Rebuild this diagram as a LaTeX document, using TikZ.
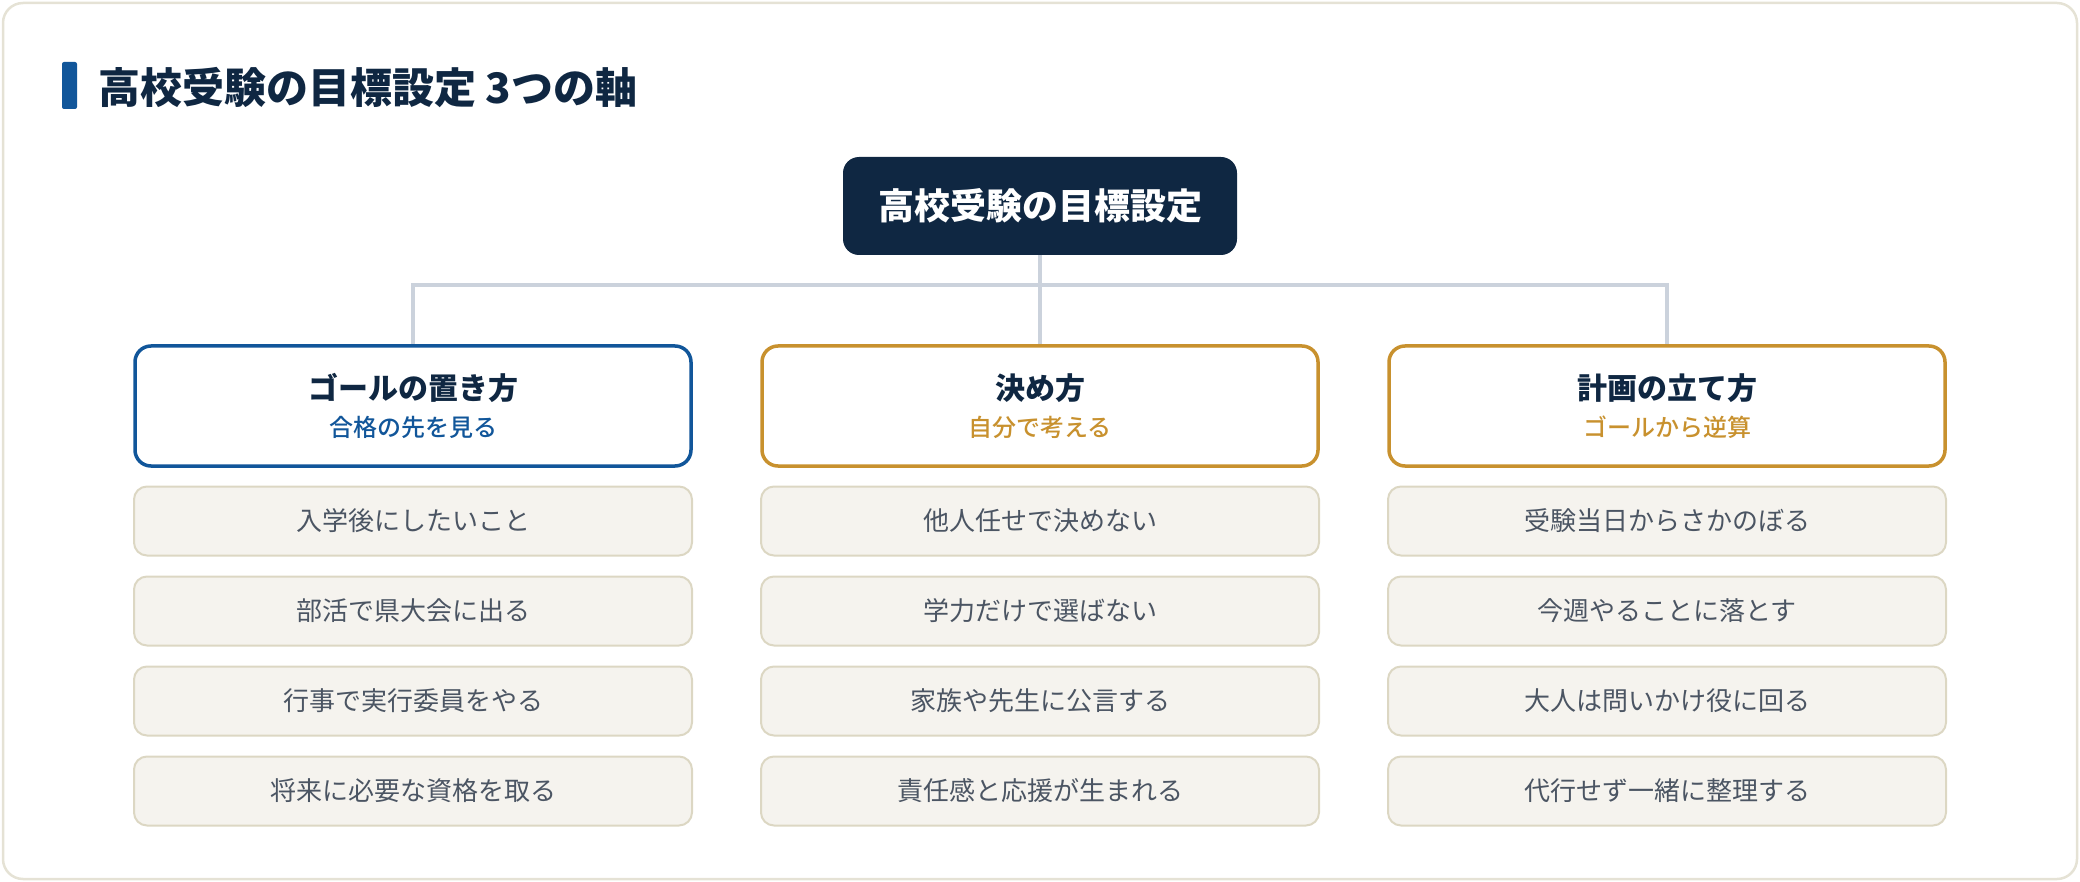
\documentclass[tikz,border=0pt]{standalone}
\usepackage{fontspec}
\setmainfont{Noto Sans CJK JP}
\newfontfamily\medfont{Noto Sans CJK JP Medium}
\definecolor{navy}{HTML}{0F2742}
\definecolor{axisblue}{HTML}{11569A}
\definecolor{axisgold}{HTML}{C8912E}
\definecolor{linkgray}{HTML}{CBD2DC}
\definecolor{itemfill}{HTML}{F5F3EE}
\definecolor{itemline}{HTML}{DCD7C3}
\definecolor{itemtext}{HTML}{4B5563}
\definecolor{framec}{HTML}{E5E2D5}

\begin{document}
\begin{tikzpicture}[x=1pt, y=-1pt,
        root/.style={fill=navy, text=white, rounded corners=16pt, minimum width=394pt, minimum height=98pt, font=\fontsize{36}{40}\selectfont\bfseries},
        head/.style={draw=#1, fill=white, line width=3.5pt, rounded corners=16pt, minimum width=556pt, minimum height=120pt, align=center},
        item/.style={draw=itemline, fill=itemfill, line width=2pt, rounded corners=13pt, minimum width=558pt, minimum height=69pt, text=itemtext, font=\fontsize{26}{30}\selectfont},
        link/.style={draw=linkgray, line width=3.5pt}]
        \useasboundingbox (0,0) rectangle (2080,882);
        \draw[framec, line width=2.5pt, rounded corners=20pt] (3,3) rectangle (2077,879);

        % title
        \fill[axisblue, rounded corners=2pt] (62,62) rectangle (77,109);
        \node[anchor=west, inner sep=0pt, text=navy, font=\fontsize{42}{46}\selectfont\bfseries] (title) at (98,88) {高校受験の目標設定 3つの軸};

        \node[root] (top) at (1040,206) {高校受験の目標設定};

        % three axes
        \node[head=axisblue] (ax1) at (413,406) {{\fontsize{30}{34}\selectfont\bfseries\color{navy}ゴールの置き方}\\[13pt]{\fontsize{24}{26}\selectfont\medfont\color{axisblue}合格の先を見る}};
        \node[head=axisgold] (ax2) at (1040,406) {{\fontsize{30}{34}\selectfont\bfseries\color{navy}決め方}\\[13pt]{\fontsize{24}{26}\selectfont\medfont\color{axisgold}自分で考える}};
        \node[head=axisgold] (ax3) at (1667,406) {{\fontsize{30}{34}\selectfont\bfseries\color{navy}計画の立て方}\\[13pt]{\fontsize{24}{26}\selectfont\medfont\color{axisgold}ゴールから逆算}};

        \coordinate (fork) at (1040,285);
        \draw[link] (top) -- (ax2);
        \draw[link] (ax1.north) |- (fork) -| (ax3.north);

        % items
        \node[item] (a1) at (413,521) {入学後にしたいこと};
        \node[item] (a2) at (413,611) {部活で県大会に出る};
        \node[item] (a3) at (413,701) {行事で実行委員をやる};
        \node[item] (a4) at (413,791) {将来に必要な資格を取る};
        \node[item] (b1) at (1040,521) {他人任せで決めない};
        \node[item] (b2) at (1040,611) {学力だけで選ばない};
        \node[item] (b3) at (1040,701) {家族や先生に公言する};
        \node[item] (b4) at (1040,791) {責任感と応援が生まれる};
        \node[item] (c1) at (1667,521) {受験当日からさかのぼる};
        \node[item] (c2) at (1667,611) {今週やることに落とす};
        \node[item] (c3) at (1667,701) {大人は問いかけ役に回る};
        \node[item] (c4) at (1667,791) {代行せず一緒に整理する};
    \end{tikzpicture}
\end{document}
